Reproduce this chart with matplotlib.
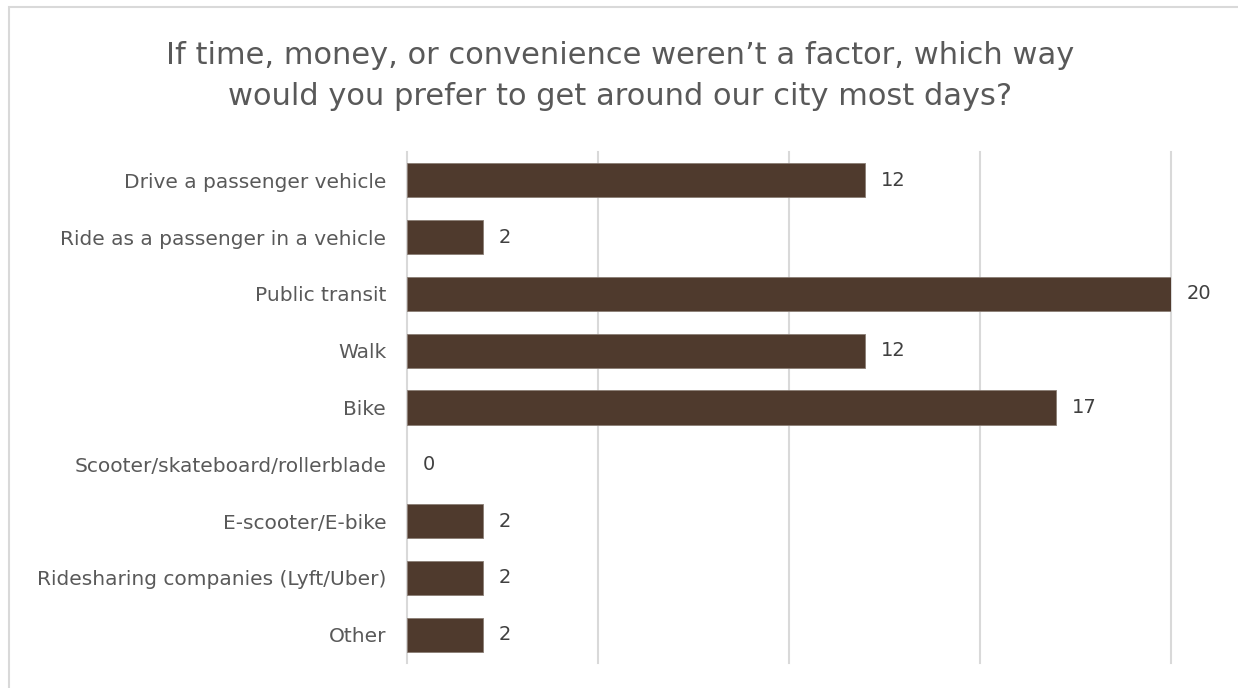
import matplotlib.pyplot as plt
from matplotlib.patches import Rectangle

plt.rcParams["font.family"] = ["DejaVu Sans"]

modos = [
    "Drive a passenger vehicle",
    "Ride as a passenger in a vehicle",
    "Public transit",
    "Walk",
    "Bike",
    "Scooter/skateboard/rollerblade",
    "E-scooter/E-bike",
    "Ridesharing companies (Lyft/Uber)",
    "Other",
]
respuestas = [12, 2, 20, 12, 17, 0, 2, 2, 2]
marcas_x = [0, 5, 10, 15, 20]

titulo = ("If time, money, or convenience weren\u2019t a factor, which way\n"
          "would you prefer to get around our city most days?")

fig = plt.figure(figsize=(12.38, 6.88), dpi=100)
ax = fig.add_axes([407 / 1238, 1 - 663 / 688, 764 / 1238, 511 / 688])

# marco gris claro alrededor del gráfico
fig.patches.append(Rectangle((8.5 / 1238, -0.05), 1.1, 1 - 7.5 / 688 + 0.05,
                             transform=fig.transFigure, fill=False,
                             edgecolor="#d9d9d9", linewidth=1.5))

# líneas de la cuadrícula sin recortar en los bordes
for xm in marcas_x:
    ax.axvline(xm, color="#d9d9d9", linewidth=1.5, zorder=0, clip_on=False)

y = list(range(len(modos)))
ax.barh(y, respuestas, height=0.6, color="#4f3a2d", edgecolor="#8a7d74",
        linewidth=[0.6 if v else 0 for v in respuestas], zorder=3)
for yi, v in zip(y, respuestas):
    ax.text(v + 0.4, yi, str(v), va="center", ha="left",
            fontsize=14, color="#404040")

ax.set_xlim(0, 20)
ax.set_ylim(len(modos) - 0.5, -0.5)
ax.set_xticks([])
ax.tick_params(axis="y", length=0, pad=15, labelsize=14.5, labelcolor="#595959")
ax.set_yticks(y)
ax.set_yticklabels(modos)
for s in ax.spines.values():
    s.set_visible(False)

fig.text(620 / 1238, 1 - 76 / 688, titulo, ha="center", va="center",
         fontsize=22, color="#595959", linespacing=1.5)

fig.savefig("out.png", dpi=100, facecolor="white")
